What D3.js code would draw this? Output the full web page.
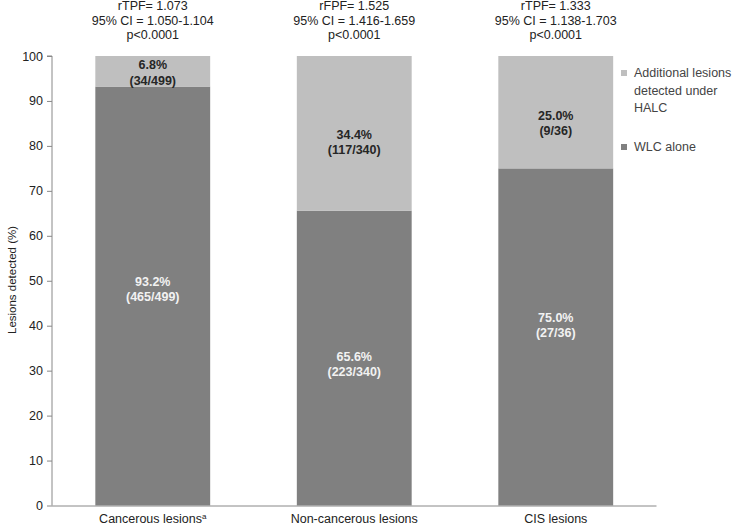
<!DOCTYPE html>
<html><head><meta charset="utf-8">
<script src="https://cdn.jsdelivr.net/npm/d3@7"></script>
<style>body{margin:0;background:#fff;}text{font-family:"Liberation Sans",Arial,sans-serif;}</style>
</head><body>
<svg id="c" width="735" height="526"></svg>
<script>
const categories = ["Cancerous lesions", "Non-cancerous lesions", "CIS lesions"];
const wlcValues = [93.2, 65.6, 75.0];
const addValues = [6.8, 34.4, 25.0];
const wlcLabels = [["93.2%", "(465/499)"], ["65.6%", "(223/340)"], ["75.0%", "(27/36)"]];
const addLabels = [["6.8%", "(34/499)"], ["34.4%", "(117/340)"], ["25.0%", "(9/36)"]];
const statLines = [
  ["rTPF= 1.073", "95% CI = 1.050-1.104", "p<0.0001"],
  ["rFPF= 1.525", "95% CI = 1.416-1.659", "p<0.0001"],
  ["rTPF= 1.333", "95% CI = 1.138-1.703", "p<0.0001"]
];
const yTicks = [0, 10, 20, 30, 40, 50, 60, 70, 80, 90, 100];
const seriesNames = ["Additional lesions detected under HALC", "WLC alone"];

// layout nudges (px) for label placement, as in the original figure
const darkNudge = [-7, 6, -12];
const lightNudge = [1.5, 9, 11];

const svg = d3.select("#c");
const x = d3.scaleBand().domain(categories).range([52, 656.5]).paddingInner(0.43).paddingOuter(0.215);
const y = d3.scaleLinear().domain([0, 100]).range([505.5, 56]);
const dark = "#808080", light = "#bfbfbf";
const lh = 15.5;

// bars
const g = svg.append("g");
categories.forEach((c, i) => {
  g.append("rect").attr("x", x(c)).attr("width", x.bandwidth())
    .attr("y", y(wlcValues[i])).attr("height", y(0) - y(wlcValues[i])).attr("fill", dark);
  g.append("rect").attr("x", x(c)).attr("width", x.bandwidth())
    .attr("y", y(wlcValues[i] + addValues[i])).attr("height", y(wlcValues[i]) - y(wlcValues[i] + addValues[i])).attr("fill", light);
  const cx = x(c) + x.bandwidth() / 2;
  const dm = (y(0) + y(wlcValues[i])) / 2 + darkNudge[i];
  const lm = (y(wlcValues[i]) + y(wlcValues[i] + addValues[i])) / 2 + lightNudge[i];
  wlcLabels[i].forEach((t, k) => {
    g.append("text").attr("x", cx).attr("y", dm + (k - 0.5) * lh).attr("dy", "0.35em")
      .attr("text-anchor", "middle").attr("font-size", 12.5).attr("font-weight", "bold")
      .attr("fill", "#f2f2f2").text(t);
  });
  addLabels[i].forEach((t, k) => {
    g.append("text").attr("x", cx).attr("y", lm + (k - 0.5) * lh).attr("dy", "0.35em")
      .attr("text-anchor", "middle").attr("font-size", 12.5).attr("font-weight", "bold")
      .attr("fill", "#262626").text(t);
  });
  statLines[i].forEach((t, k) => {
    svg.append("text").attr("x", cx).attr("y", 6 + k * 14.5).attr("dy", "0.35em")
      .attr("text-anchor", "middle").attr("font-size", 12.5).attr("fill", "#222").text(t);
  });
});

// y axis
const ya = svg.append("g").attr("transform", "translate(52,0)")
  .call(d3.axisLeft(y).tickValues(yTicks).tickSize(5).tickPadding(4));
ya.select(".domain").attr("stroke", "#888").attr("d", `M-5,${y(100)}H0V${y(0)}`);
ya.selectAll(".tick line").attr("stroke", "#888");
ya.selectAll(".tick text").attr("font-size", 12.5).attr("fill", "#222")
  .attr("font-family", "Liberation Sans, Arial, sans-serif");

// x axis
const xa = svg.append("g").attr("transform", `translate(0,${y(0)})`)
  .call(d3.axisBottom(x).tickSize(0).tickPadding(9));
xa.select(".domain").attr("stroke", "#888").attr("d", `M52,0.5H656.5`);
xa.selectAll(".tick text").attr("font-size", 12.5).attr("fill", "#222")
  .attr("font-family", "Liberation Sans, Arial, sans-serif")
  .each(function(d, i) {
    if (i === 0) {
      d3.select(this).append("tspan").attr("font-size", 8).attr("dy", "-0.55em").text("a");
    }
  });

// y label
svg.append("text").attr("transform", "translate(12,280) rotate(-90)")
  .attr("text-anchor", "middle").attr("dy", "0.35em").attr("font-size", 11.5).attr("fill", "#222")
  .text("Lesions detected (%)");

// legend
const leg = svg.append("g");
leg.append("rect").attr("x", 621).attr("y", 70).attr("width", 6).attr("height", 6).attr("fill", light);
["Additional lesions", "detected under", "HALC"].forEach((t, k) => {
  leg.append("text").attr("x", 634).attr("y", 73 + k * 17.5).attr("dy", "0.35em")
    .attr("font-size", 12.5).attr("fill", "#444").text(t);
});
leg.append("rect").attr("x", 621).attr("y", 144).attr("width", 6).attr("height", 6).attr("fill", dark);
leg.append("text").attr("x", 634).attr("y", 147).attr("dy", "0.35em")
  .attr("font-size", 12.5).attr("fill", "#444").text(seriesNames[1]);
</script>
</body></html>
